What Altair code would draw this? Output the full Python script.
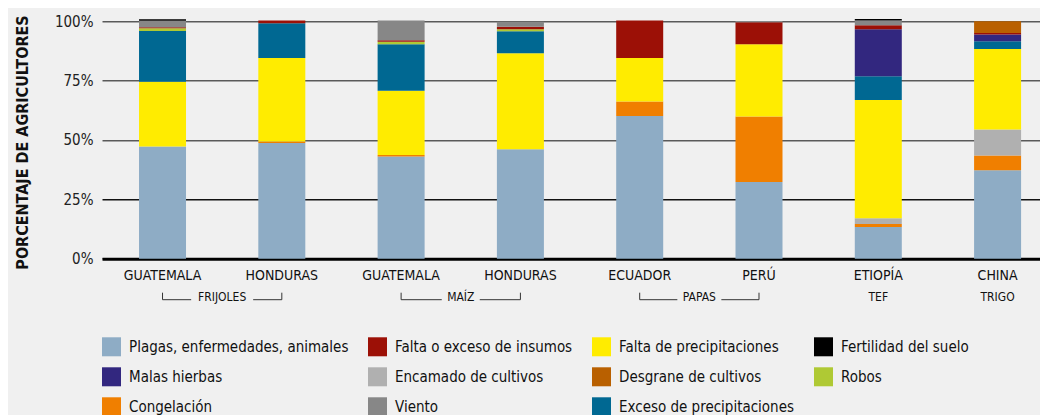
import altair as alt
import pandas as pd

# ---------------- data ----------------
countries = ["GUATEMALA", "HONDURAS", "GUATEMALA", "HONDURAS", "ECUADOR", "PERÚ", "ETIOPÍA", "CHINA"]
crops = ["FRIJOLES", "FRIJOLES", "MAÍZ", "MAÍZ", "PAPAS", "PAPAS", "TEF", "TRIGO"]

plagas      = [47.3, 48.7, 43.0, 46.1, 60.1, 32.3, 13.4, 37.3]
congelacion = [0.0, 0.7, 0.7, 0.0, 6.1, 27.6, 1.2, 6.2]
encamado    = [0.0, 0.0, 0.0, 0.0, 0.0, 0.0, 2.4, 10.9]
falta_prec  = [27.2, 35.1, 27.0, 40.4, 18.3, 30.4, 49.9, 33.9]
exceso_prec = [21.4, 14.7, 19.6, 9.3, 0.0, 0.0, 10.0, 3.3]
malas       = [0.0, 0.0, 0.0, 0.0, 0.0, 0.0, 19.7, 2.8]
robos       = [1.2, 0.0, 1.1, 0.8, 0.0, 0.0, 0.0, 0.0]
insumos     = [0.4, 1.1, 0.6, 1.1, 15.8, 9.3, 1.7, 0.7]
desgrane    = [0.0, 0.0, 0.0, 0.0, 0.0, 0.0, 0.0, 4.9]
viento      = [2.7, 0.0, 8.3, 2.1, 0.0, 0.5, 2.0, 0.0]
fertilidad  = [0.7, 0.0, 0.0, 0.0, 0.0, 0.0, 0.7, 0.0]

# stacking order (bottom -> top)
series = [
    ("Plagas, enfermedades, animales", plagas),
    ("Congelación", congelacion),
    ("Encamado de cultivos", encamado),
    ("Falta de precipitaciones", falta_prec),
    ("Exceso de precipitaciones", exceso_prec),
    ("Malas hierbas", malas),
    ("Robos", robos),
    ("Falta o exceso de insumos", insumos),
    ("Desgrane de cultivos", desgrane),
    ("Viento", viento),
    ("Fertilidad del suelo", fertilidad),
]

# legend order (filled column by column, 3 rows x 4 columns)
legend_order = [
    "Plagas, enfermedades, animales", "Malas hierbas", "Congelación",
    "Falta o exceso de insumos", "Encamado de cultivos", "Viento",
    "Falta de precipitaciones", "Desgrane de cultivos", "Exceso de precipitaciones",
    "Fertilidad del suelo", "Robos",
]
colors = {
    "Plagas, enfermedades, animales": "#8eacc5",
    "Falta o exceso de insumos": "#9c1006",
    "Falta de precipitaciones": "#ffec00",
    "Fertilidad del suelo": "#000000",
    "Malas hierbas": "#32277f",
    "Encamado de cultivos": "#b0b0b0",
    "Desgrane de cultivos": "#b96000",
    "Robos": "#afc934",
    "Congelación": "#f07f00",
    "Viento": "#878787",
    "Exceso de precipitaciones": "#006892",
}

ids = [f"{c}|{k}" for c, k in zip(countries, crops)]

rows = []
for order, (name, vals) in enumerate(series):
    for bid, v in zip(ids, vals):
        if v > 0:
            rows.append({"bar": bid, "cause": name, "value": v, "ord": order})
df = pd.DataFrame(rows)

# ---------------- layout constants ----------------
FONT = "Liberation Sans Narrow, DejaVu Sans Condensed, Liberation Sans, sans-serif"
W = 938
H = 237.4
P_IN = 0.606
P_OUT = 0.2343
ALIGN = 0.662
STEP = W / (len(ids) - P_IN + 2 * P_OUT)

xscale = alt.Scale(domain=ids, paddingInner=P_IN, paddingOuter=P_OUT, align=ALIGN)

bars = alt.Chart(df).mark_bar().encode(
    x=alt.X("bar:N", scale=xscale, sort=ids, title=None,
            axis=alt.Axis(labelExpr="split(datum.label, '|')[0]", labelAngle=0,
                          labelFont=FONT, labelFontSize=14, labelColor="#111",
                          labelPadding=10, ticks=False, domainColor="#000",
                          domainWidth=3, grid=False)),
    y=alt.Y("value:Q", stack="zero", title="PORCENTAJE DE AGRICULTORES",
            scale=alt.Scale(domain=[0, 100], nice=False),
            axis=alt.Axis(values=[0, 25, 50, 75, 100], labelExpr="datum.value + '%'",
                          labelFont=FONT, labelFontSize=15, labelColor="#222",
                          labelPadding=9, ticks=False, domain=False,
                          grid=True,
                          gridColor=alt.condition("datum.value == 25", alt.value("#111"),
                                                  alt.value("#5a5a5a")),
                          gridWidth=1.4,
                          titleFont=FONT, titleFontSize=16, titleFontWeight="bold",
                          titleColor="#111", titleX=-80, titleY=H / 2 + 2,
                          titleAngle=270, titleAlign="center", titleBaseline="middle")),
    color=alt.Color("cause:N", scale=alt.Scale(domain=legend_order,
                                                range=[colors[c] for c in legend_order]),
                    legend=alt.Legend(title=None, orient="none", legendX=0, legendY=316,
                                      columns=4, symbolType="square", symbolSize=361,
                                      symbolStrokeWidth=0, labelFont=FONT, labelFontSize=15,
                                      labelColor="#111", labelOffset=8, rowPadding=11,
                                      columnPadding=19, gridAlign="each", labelLimit=400)),
    order=alt.Order("ord:Q", sort="ascending"),
)

# group labels / brackets
groups = []
i = 0
while i < len(crops):
    j = i
    while j + 1 < len(crops) and crops[j + 1] == crops[i]:
        j += 1
    groups.append((crops[i], ids[i], ids[j]))
    i = j + 1

paired = [g for g in groups if g[1] != g[2]]
single = [g for g in groups if g[1] == g[2]]

layers = [bars]

txt_kw = dict(font=FONT, fontSize=12, color="#111", baseline="middle", align="center")

pair_df = pd.DataFrame({"label": [g[0] for g in paired], "bar": [g[1] for g in paired]})
layers.append(alt.Chart(pair_df).mark_text(dx=STEP / 2, **txt_kw).encode(
    x=alt.X("bar:N", title=None), y=alt.value(H + 38.5), text="label:N"))

single_df = pd.DataFrame({"label": [g[0] for g in single], "bar": [g[1] for g in single]})
layers.append(alt.Chart(single_df).mark_text(**txt_kw).encode(
    x=alt.X("bar:N", title=None), y=alt.value(H + 38.5), text="label:N"))

vert_df = pd.DataFrame({"bar": [b for g in paired for b in (g[1], g[2])]})
layers.append(alt.Chart(vert_df).mark_rule(color="#333", strokeWidth=1).encode(
    x=alt.X("bar:N", title=None), y=alt.value(H + 34), y2=alt.value(H + 41)))

for label, left, right in paired:
    half_gap = len(label) * 3 + 7
    seg = STEP / 2 - half_gap
    ldf = pd.DataFrame({"bar": [left]})
    rdf = pd.DataFrame({"bar": [right]})
    layers.append(alt.Chart(ldf).mark_rule(color="#333", strokeWidth=1, x2Offset=seg).encode(
        x=alt.X("bar:N", title=None), x2="bar:N", y=alt.value(H + 41)))
    layers.append(alt.Chart(rdf).mark_rule(color="#333", strokeWidth=1, xOffset=-seg).encode(
        x=alt.X("bar:N", title=None), x2="bar:N", y=alt.value(H + 41)))

chart = alt.layer(*layers).properties(
    width=W, height=H, autosize="none",
    padding={"left": 94, "top": 13.3, "right": 0, "bottom": 156},
    background="#f0f0f0",
).configure_view(stroke=None)

chart.save("out.html", embed_options={"renderer": "svg", "actions": False})
